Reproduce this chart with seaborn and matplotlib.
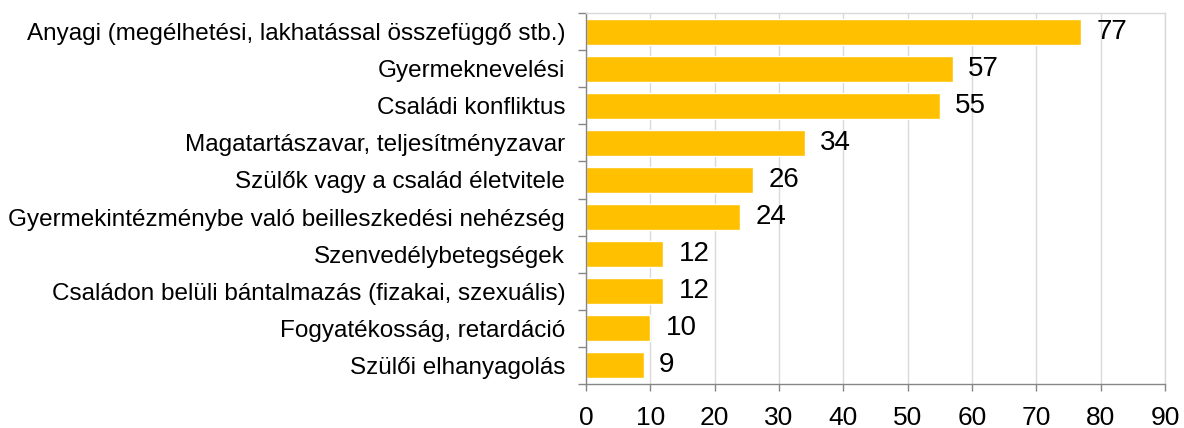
import matplotlib
matplotlib.use("Agg")
import matplotlib.pyplot as plt
import seaborn as sns
import pandas as pd
import numpy as np

categories = [
    "Anyagi (megélhetési, lakhatással összefüggő stb.)",
    "Gyermeknevelési",
    "Családi konfliktus",
    "Magatartászavar, teljesítményzavar",
    "Szülők vagy a család életvitele",
    "Gyermekintézménybe való beilleszkedési nehézség",
    "Szenvedélybetegségek",
    "Családon belüli bántalmazás (fizakai, szexuális)",
    "Fogyatékosság, retardáció",
    "Szülői elhanyagolás",
]
values = [77, 57, 55, 34, 26, 24, 12, 12, 10, 9]
x_ticks = [0, 10, 20, 30, 40, 50, 60, 70, 80, 90]

df = pd.DataFrame({"ok": categories, "db": values})

sns.set_theme(style="white")
plt.rcParams["font.family"] = ["Liberation Sans", "DejaVu Sans"]
plt.rcParams["text.color"] = "black"
plt.rcParams["xtick.color"] = "black"
plt.rcParams["ytick.color"] = "black"

fig = plt.figure(figsize=(11.84, 4.28), dpi=100)
ax = fig.add_axes([0.4949, 0.1028, 0.4891, 0.8668])

sns.barplot(data=df, x="db", y="ok", orient="h", color="#FFC000",
            saturation=1, width=0.7, ax=ax)

ax.set_xlim(0, 90)
ax.set_ylim(len(categories) - 0.5, -0.5)
ax.set_xticks(x_ticks)
ax.set_xticklabels([str(t) for t in x_ticks], fontsize=19, color="black")
ax.set_yticks(np.arange(len(categories) + 1) - 0.5, minor=False)
ax.set_yticklabels([])
ax.set_yticks(np.arange(len(categories)), minor=True)
ax.set_yticklabels(categories, minor=True, fontsize=17.5, color="black")
ax.tick_params(axis="y", which="minor", length=0, pad=15)
ax.tick_params(axis="y", which="major", direction="out", length=6,
               color="#868686", width=1, left=True)
ax.tick_params(axis="x", direction="out", length=5, color="#868686",
               width=1, bottom=True, pad=11)
ax.set_xlabel("")
ax.set_ylabel("")

ax.grid(axis="x", color="#d9d9d9", linewidth=1)
ax.set_axisbelow(True)
for side in ["left", "bottom"]:
    ax.spines[side].set_color("#868686")
    ax.spines[side].set_linewidth(1)
for side in ["top", "right"]:
    ax.spines[side].set_visible(True)
    ax.spines[side].set_color("#d9d9d9")
    ax.spines[side].set_linewidth(1)

for i, v in enumerate(values):
    ax.annotate(str(v), xy=(v, i), xytext=(11, 0), textcoords="offset points",
                ha="left", va="center", fontsize=20, color="black")

fig.savefig("out.png", dpi=100)
